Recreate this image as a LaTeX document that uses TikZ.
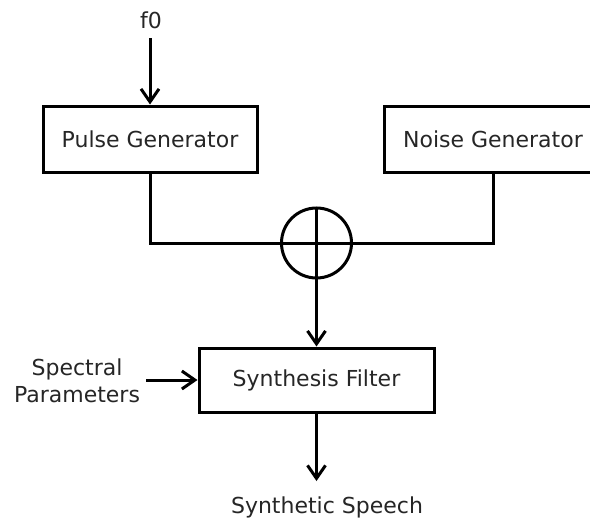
\documentclass[tikz,border=0pt]{standalone}
\usepackage{fontspec}
\setmainfont{DejaVu Sans}
\usetikzlibrary{arrows.meta}
\begin{document}
\begin{tikzpicture}[x=1pt,y=-1pt,
  every node/.style={font=\fontsize{22}{27}\selectfont, text=black!85},
  blk/.style={draw=black, line width=3pt, inner sep=0pt, fill=white},
  lbl/.style={inner sep=0pt, align=center},
  conn/.style={line width=3pt, draw=black},
  arr/.style={conn, -{Straight Barb[length=13pt,width=18pt,line width=3pt]}}]
\useasboundingbox[fill=white] (0,0) rectangle (590,522);
\node[lbl] (f0) at (151,20) {f0};
\coordinate (f0s) at (150,38);
\node[blk, minimum width=214pt, minimum height=66pt] (pulse) at (150,139) {Pulse Generator};
\node[blk, minimum width=218pt, minimum height=66pt] (noise) at (493,139) {Noise Generator};
\node[draw=black, line width=3pt, circle, minimum size=70pt, inner sep=0pt] (sum) at (316.5,243) {};
\node[blk, minimum width=235pt, minimum height=64pt] (filt) at (316.5,380) {Synthesis Filter};
\node[lbl] (spec) at (77,381) {Spectral\\Parameters};
\coordinate (specE) at (146,380);
\coordinate (outE) at (316.5,481);
\node[lbl] (out) at (327,507) {Synthetic Speech};
\draw[arr] (f0s) -- (pulse.north);
\draw[conn] (pulse.south) |- (sum.west);
\draw[conn] (noise.south) |- (sum.east);
\draw[conn] (sum.north) -- (sum.south);
\draw[conn] (sum.west) -- (sum.east);
\draw[arr] (sum.south) -- (filt.north);
\draw[arr] (specE) -- (filt.west);
\draw[arr] (filt.south) -- (outE);
\end{tikzpicture}
\end{document}
